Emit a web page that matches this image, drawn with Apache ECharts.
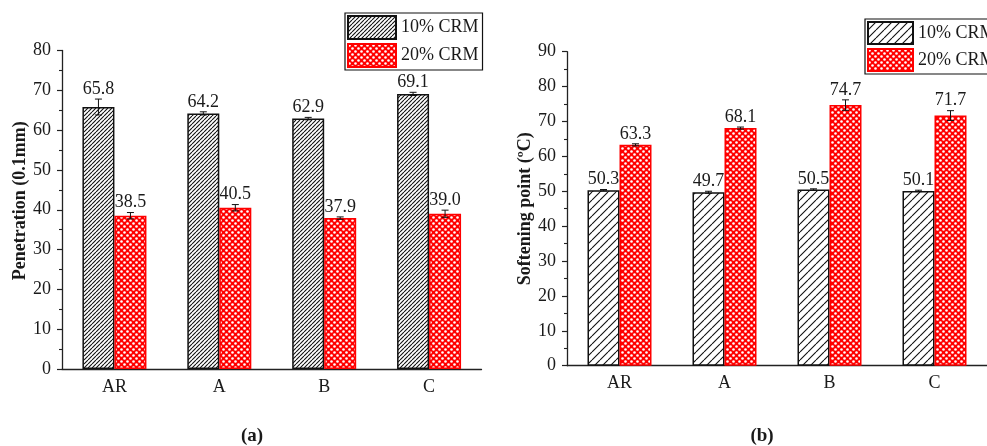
<!DOCTYPE html>
<html>
<head>
<meta charset="utf-8">
<script src="https://cdn.jsdelivr.net/npm/echarts@6/dist/echarts.min.js"></script>
<style>
  html, body { margin: 0; padding: 0; background: #fff; }
  #chart { width: 987px; height: 446px; }
</style>
</head>
<body>
<div id="chart"></div>
<script>
// ---------- data ----------
const categories = ['AR', 'A', 'B', 'C'];
const seriesNames = ['10% CRM', '20% CRM'];

const penetration10 = [65.8, 64.2, 62.9, 69.1];
const penetration10Err = [2.0, 0.4, 0.3, 0.4];
const penetration20 = [38.5, 40.5, 37.9, 39.0];
const penetration20Err = [0.8, 0.8, 0.3, 0.9];

const softening10 = [50.3, 49.7, 50.5, 50.1];
const softening10Err = [0.2, 0.3, 0.2, 0.2];
const softening20 = [63.3, 68.1, 74.7, 71.7];
const softening20Err = [0.3, 0.3, 1.5, 1.4];

const penetrationAxis = { min: 0, max: 80, interval: 10 };
const softeningAxis = { min: 0, max: 90, interval: 10 };

const penetrationTitle = 'Penetration (0.1mm)';
const softeningTitle = 'Softening point (\u00baC)';
const captions = ['a', 'b'];

// ---------- styles ----------
const FONT = "'Liberation Serif', 'Times New Roman', serif";
const TXT = '#1a1a1a';
const BAR_W = 32;

function hatch(s, lw) {
  const c = document.createElement('canvas');
  c.width = s; c.height = s;
  const g = c.getContext('2d');
  g.fillStyle = '#fff';
  g.fillRect(0, 0, s, s);
  g.strokeStyle = '#111';
  g.lineWidth = lw;
  g.beginPath();
  [-s, 0, s].forEach(o => { g.moveTo(o, s); g.lineTo(o + s, 0); });
  g.stroke();
  return { image: c, repeat: 'repeat' };
}
function redDots() {
  const s = 6;
  const c = document.createElement('canvas');
  c.width = s; c.height = s;
  const g = c.getContext('2d');
  g.fillStyle = '#ff0000';
  g.fillRect(0, 0, s, s);
  g.fillStyle = '#ffffff';
  g.beginPath(); g.arc(1.5, 1.5, 1.3, 0, Math.PI * 2); g.fill();
  g.beginPath(); g.arc(4.5, 4.5, 1.3, 0, Math.PI * 2); g.fill();
  return { image: c, repeat: 'repeat' };
}
const hatchA = hatch(4, 1.1);
const hatchB = hatch(8, 1.1);
const redFill = redDots();

function errRender(offset) {
  return function (params, api) {
    const x = api.value(0), v = api.value(1), e = api.value(2);
    const top = api.coord([x, v + e]);
    const bot = api.coord([x, v - e]);
    const cx = top[0] + offset;
    const cap = 3.5;
    const st = { stroke: '#111', lineWidth: 1 };
    return {
      type: 'group',
      children: [
        { type: 'line', shape: { x1: cx, y1: top[1], x2: cx, y2: bot[1] }, style: st },
        { type: 'line', shape: { x1: cx - cap, y1: top[1], x2: cx + cap, y2: top[1] }, style: st },
        { type: 'line', shape: { x1: cx - cap, y1: bot[1], x2: cx + cap, y2: bot[1] }, style: st },
        { type: 'text', x: cx, y: top[1] - 1,
          style: { text: v.toFixed(1), fill: TXT, font: '18px ' + FONT, align: 'center', verticalAlign: 'bottom' } }
      ]
    };
  };
}
function zip(vals, errs) { return vals.map((v, i) => [i, v, errs[i]]); }

function xAxes(gridIndex) {
  return [
    { type: 'category', data: categories, gridIndex,
      axisLine: { lineStyle: { color: '#222', width: 1.3 } },
      axisTick: { alignWithLabel: true, inside: false, length: 5, lineStyle: { color: '#222', width: 1.2 } },
      axisLabel: { color: TXT, fontFamily: FONT, fontSize: 18, margin: 9 },
      splitLine: { show: false } },
    { type: 'category', data: categories, gridIndex, position: 'bottom',
      axisLine: { show: false },
      axisTick: { inside: true, length: 3, lineStyle: { color: '#222', width: 1.2 } },
      axisLabel: { show: false }, splitLine: { show: false } }
  ];
}
function yAxis(gridIndex, range, name, gap, pad) {
  return { type: 'value', gridIndex, min: range.min, max: range.max, interval: range.interval,
    name, nameLocation: 'middle', nameGap: gap,
    nameTextStyle: { color: TXT, fontFamily: FONT, fontSize: 18, fontWeight: 'bold', padding: pad },
    axisLine: { show: true, lineStyle: { color: '#222', width: 1.3 } },
    axisTick: { show: true, inside: false, length: 5, lineStyle: { color: '#222', width: 1.2 } },
    minorTick: { show: true, splitNumber: 2, length: 3, lineStyle: { color: '#222', width: 1.1 } },
    axisLabel: { color: TXT, fontFamily: FONT, fontSize: 18, margin: 11 },
    splitLine: { show: false } };
}
function bar(name, xi, yi, vals, fill, border) {
  return { type: 'bar', name, xAxisIndex: xi, yAxisIndex: yi, data: vals,
    barWidth: BAR_W, barGap: '0%',
    itemStyle: { color: fill, borderColor: border, borderWidth: 1.5 } };
}
function errSeries(name, xi, yi, vals, errs, offset) {
  return { type: 'custom', name, xAxisIndex: xi, yAxisIndex: yi, z: 5,
    data: zip(vals, errs), renderItem: errRender(offset), silent: true,
    encode: { x: 0, y: 1 } };
}
const legendBase = {
  orient: 'vertical', itemWidth: 48, itemHeight: 23, itemGap: 3,
  icon: 'rect', backgroundColor: '#fff', borderColor: '#111', borderWidth: 1.2,
  borderRadius: 0, padding: [2, 4, 2, 2],
  textStyle: { color: TXT, fontFamily: FONT, fontSize: 18 }
};
const capRich = {
  p: { fontFamily: FONT, fontSize: 19, color: TXT },
  b: { fontFamily: FONT, fontSize: 19, color: TXT, fontWeight: 'bold' }
};

const chart = echarts.init(document.getElementById('chart'), null, { renderer: 'canvas' });
chart.setOption({
  animation: false,
  backgroundColor: '#fff',
  title: captions.map((c, i) => ({
    text: '{p|(}{b|' + c + '}{p|)}', left: i === 0 ? 247 : 757, top: 422, textAlign: 'center',
    textStyle: { rich: capRich }
  })),
  legend: [
    Object.assign({}, legendBase, { left: 345, top: 13, data: seriesNames }),
    Object.assign({}, legendBase, { left: 865, top: 19, itemWidth: 45, itemHeight: 22,
      data: [{ name: seriesNames[0], itemStyle: { color: hatchB } }, { name: seriesNames[1] }] })
  ],
  grid: [
    { left: 62, top: 50.5, width: 419.5, height: 318.5 },
    { left: 567, top: 51.7, width: 426, height: 314 }
  ],
  xAxis: xAxes(0).concat(xAxes(1)),
  yAxis: [
    yAxis(0, penetrationAxis, penetrationTitle, 33, [0, 0, 0, 18]),
    yAxis(1, softeningAxis, softeningTitle, 31, [0, 0, 0, 0])
  ],
  series: [
    bar(seriesNames[0], 0, 0, penetration10, hatchA, '#111'),
    bar(seriesNames[1], 0, 0, penetration20, redFill, '#ff0000'),
    bar(seriesNames[0], 2, 1, softening10, hatchB, '#111'),
    bar(seriesNames[1], 2, 1, softening20, redFill, '#ff0000'),
    errSeries('errA10', 0, 0, penetration10, penetration10Err, -BAR_W / 2),
    errSeries('errA20', 0, 0, penetration20, penetration20Err, BAR_W / 2),
    errSeries('errB10', 2, 1, softening10, softening10Err, -BAR_W / 2),
    errSeries('errB20', 2, 1, softening20, softening20Err, BAR_W / 2)
  ]
});
</script>
</body>
</html>
